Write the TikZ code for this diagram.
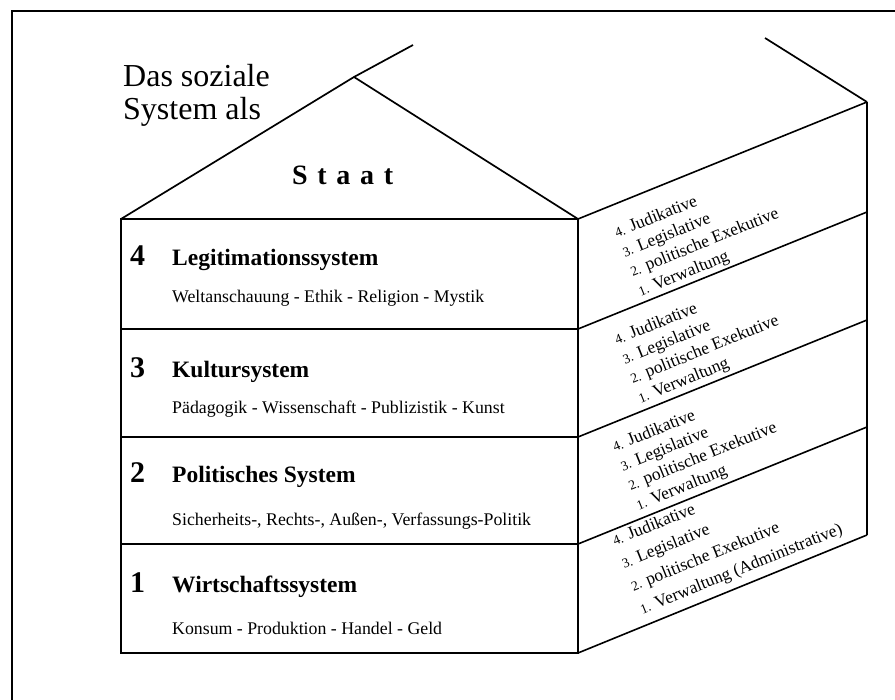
\documentclass[tikz,border=0pt]{standalone}
\usepackage{fontspec}
\setmainfont{Liberation Serif}
\begin{document}
\begin{tikzpicture}[x=1pt,y=-1pt]
\tikzset{
  frontline/.style={line width=2.5pt},
  roofline/.style={line width=1.7pt},
  faceline/.style={line width=1.6pt},
  framelines/.style={line width=2.5pt},
  num/.style={anchor=base west, inner sep=0pt, font=\bfseries\fontsize{30}{30}\selectfont},
  ttl/.style={anchor=base west, inner sep=0pt, font=\bfseries\fontsize{23.5}{24}\selectfont},
  sub/.style={anchor=base west, inner sep=0pt, font=\fontsize{17.8}{18}\selectfont},
  rt/.style={anchor=base west, inner sep=0pt, rotate=22, font=\fontsize{17.4}{18}\selectfont},
  big/.style={anchor=base west, inner sep=0pt, font=\fontsize{32}{33}\selectfont},
}
\newcommand{\nsz}{\fontsize{13.5}{14}\selectfont}
\useasboundingbox (0,0) rectangle (895,700);
% frame
\coordinate (fa) at (12,700);
\coordinate (fb) at (12,11);
\coordinate (fc) at (895,11);
\draw[framelines] (fa) -- (fb) -- (fc);
% front box corners
\coordinate (A1) at (121,219); \coordinate (B1) at (578,219);
\coordinate (A2) at (121,329); \coordinate (B2) at (578,329);
\coordinate (A3) at (121,437); \coordinate (B3) at (578,437);
\coordinate (A4) at (121,544); \coordinate (B4) at (578,544);
\coordinate (A5) at (121,653); \coordinate (B5) at (578,653);
% right face corners
\coordinate (C1) at (867,102);
\coordinate (C2) at (867,212);
\coordinate (C3) at (867,320);
\coordinate (C4) at (867,427);
\coordinate (C5) at (867,535);
% roof
\coordinate (apex) at (354,77);
\coordinate (ridge) at (413,45);
\coordinate (back) at (765,38);
\draw[roofline] (A1) -- (apex) -- (B1);
\draw[roofline] (apex) -- (ridge);
\draw[roofline] (C1) -- (back);
% right face
\draw[faceline] (B1) -- (C1);
\draw[faceline] (B2) -- (C2);
\draw[faceline] (B3) -- (C3);
\draw[faceline] (B4) -- (C4);
\draw[faceline] (B5) -- (C5);
\draw[frontline] (C1) -- (C5);
% front box
\draw[frontline] (A1) -- (B1) -- (B5) -- (A5) -- cycle;
\draw[frontline] (A2) -- (B2);
\draw[frontline] (A3) -- (B3);
\draw[frontline] (A4) -- (B4);
% title texts
\node[big] (das) at (123,87) {Das soziale};
\node[big] (sys) at (123,120) {System als};
\node[anchor=base west, inner sep=0pt, font=\bfseries\fontsize{28}{28}\selectfont] (staat) at (292,185) {\spaceskip=9.7pt S t a a t};
% rows
\node[num] (n4) at (130,266) {4};
\node[ttl] (t4) at (172,266) {Legitimationssystem};
\node[sub] (s4) at (172,303) {Weltanschauung - Ethik - Religion - Mystik};
\node[num] (n3) at (130,378) {3};
\node[ttl] (t3) at (172,378) {Kultursystem};
\node[sub] (s3) at (172,414) {Pädagogik - Wissenschaft - Publizistik - Kunst};
\node[num] (n2) at (130,483) {2};
\node[ttl] (t2) at (172,483) {Politisches System};
\node[sub] (s2) at (172,526) {Sicherheits-, Rechts-, Außen-, Verfassungs-Politik};
\node[num] (n1) at (130,592) {1};
\node[ttl] (t1) at (172,592) {Wirtschaftssystem};
\node[sub] (s1) at (172,634) {Konsum - Produktion - Handel - Geld};
% right face texts
\foreach \r/\sx/\sy in {4/617/238, 3/617/345, 2/615/452} {
  \node[rt] (j\r) at (\sx,\sy) {{\nsz 4.} Judikative};
  \node[rt] (l\r) at (\sx+7.87,\sy+19.47) {{\nsz 3.} Legislative};
  \node[rt] (p\r) at (\sx+15.74,\sy+38.94) {{\nsz 2.} politische Exekutive};
  \node[rt] (v\r) at (\sx+23.61,\sy+58.41) {{\nsz 1.} Verwaltung};
}
\node[rt] (j1) at (615,546) {{\nsz 4.} Judikative};
\node[rt] (l1) at (624.18,568.72) {{\nsz 3.} Legislative};
\node[rt] (p1) at (633.36,591.44) {{\nsz 2.} politische Exekutive};
\node[rt] (v1) at (642.54,614.16) {{\nsz 1.} Verwaltung (Administrative)};
\end{tikzpicture}
\end{document}
